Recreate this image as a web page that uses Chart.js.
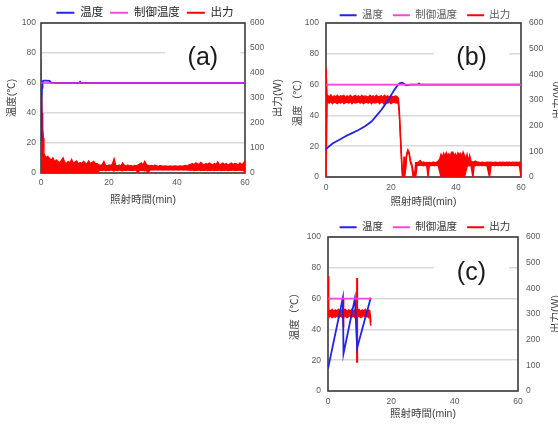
<!DOCTYPE html>
<html><head><meta charset="utf-8">
<script src="https://cdn.jsdelivr.net/npm/chart.js@4.4.1/dist/chart.umd.min.js"></script>
<style>
html,body{margin:0;padding:0;background:#fff;overflow:hidden;}
body{width:558px;height:425px;position:relative;}
.p{position:absolute;}
canvas{display:block;}
</style></head><body>
<div class="p" style="left:0;top:0;"><canvas id="ca" width="290" height="210"></canvas></div>
<div class="p" style="left:280px;top:0;"><canvas id="cb" width="290" height="210"></canvas></div>
<div class="p" style="left:280px;top:212px;"><canvas id="cc" width="290" height="213"></canvas></div>
<script>
// ---------- shared axis data ----------
const xTicksMin = 0, xTicksMax = 60, xStep = 20;
const tempMin = 0, tempMax = 100, tempStep = 20;
const powMin = 0, powMax = 600, powStep = 100;
const seriesNames = ['温度', '制御温度', '出力'];
const xTitle = '照射時間(min)';
const rightTitle = '出力(W)';

// ---------- panel (a) ----------
const aTempT = [0, 0.1, 0.2, 0.3, 0.45, 0.8, 1.5, 2.5, 3.0, 5.0, 11.2, 11.5, 11.8, 60];
const aTemp  = [22, 34, 48, 57, 61, 61.6, 61.6, 61.4, 60.3, 60, 60, 60.8, 60, 60];
const aSetT = [0, 60];
const aSet  = [60, 60];
const aPowT = [0,0.15,0.3,0.5,0.7,0.85,
 1,1.5,2,2.5,3,3.5,4,4.5,5,5.5,6,6.5,7,7.5,8,8.5,9,9.5,10,10.5,11,11.5,12,12.5,13,13.5,14,14.5,15,15.5,
 16,16.5,17,17.5,18,18.5,19,19.5,20,20.5,21,21.5,22,22.5,23,23.5,24,24.5,25,25.5,26,26.5,27,27.5,28,28.5,
 29,29.5,30,30.5,31,31.5,32,32.5,33,33.5,34,34.5,35,35.5,36,36.5,37,37.5,38,38.5,39,39.5,40,40.5,41,41.5,
 42,42.5,43,43.5,44,44.5,45,45.5,46,46.5,47,47.5,48,48.5,49,49.5,50,50.5,51,51.5,52,52.5,53,53.5,54,54.5,
 55,55.5,56,56.5,57,57.5,58,58.5,59,59.5,60];
const aPowHi = [456,456,240,180,140,80,
 72,62,66,58,50,60,44,52,46,40,
 50,60,42,38,46,40,54,38,44,48,
 36,42,38,46,40,36,48,38,42,46,
 36,38,32,30,34,46,30,28,32,30,
 36,56,30,28,32,28,40,30,27,32,
 28,30,26,30,28,32,36,40,32,46,
 34,30,28,30,27,32,28,26,30,28,
 26,28,27,26,28,26,27,28,26,27,
 28,26,28,30,27,32,34,38,32,40,
 36,34,42,36,32,38,34,40,36,32,
 38,34,44,32,36,40,34,38,32,36,
 40,34,38,36,32,40,34,38,48];
const aPowLo = [0,0,0,0,0,0,
 0,0,0,0,0,0,0,0,0,0,
 0,0,0,0,0,0,0,0,0,0,
 0,0,0,0,0,0,0,0,0,0,
 0,0,8,12,10,13,9,12,10,13,
 11,8,12,10,13,11,9,12,10,13,
 11,12,10,13,11,0,12,10,12,9,
 11,0,12,14,12,14,13,12,14,13,
 12,14,13,12,14,13,12,14,13,12,
 14,13,12,14,12,13,11,13,10,12,
 11,13,10,12,11,13,10,12,11,13,
 10,12,11,13,10,12,11,13,10,12,
 11,13,10,12,11,13,10,12,0];

// ---------- panel (b) ----------
const bTempT = [0, 1, 2, 4, 6, 8, 10, 12, 14, 16, 17, 18, 19, 20, 21, 22, 22.8, 23.4, 24.0, 24.6, 25.2, 26, 27, 28.2, 28.6, 29, 60];
const bTemp  = [18, 20, 21.7, 24, 26.5, 28.5, 30.5, 33, 36, 41, 43.5, 46.5, 49.5, 53, 56.5, 59.5, 61, 61.3, 60.5, 59.6, 59.7, 60, 60, 60, 60.6, 60, 60];
const bSetT = [0, 60];
const bSet  = [60, 60];
const bPowT = [0,0.2,0.35,
 0.5,1,1.5,2,2.5,3,3.5,4,4.5,5,5.5,6,6.5,7,7.5,8,8.5,9,9.5,10,10.5,11,11.5,12,12.5,13,13.5,14,14.5,15,
 15.5,16,16.5,17,17.5,18,18.5,19,19.5,20,20.5,21,21.5,22,
 22.3,22.6,22.9,23.2,23.5,23.8,24,24.2,24.5,24.8,25.2,25.6,26,26.4,26.8,27.2,27.6,28,28.5,29,29.5,30,30.5,31,
 31.4,31.8,32.5,33,33.5,34,34.5,35,35.4,35.8,36.2,36.6,37,37.4,37.8,38.2,38.6,39,39.4,39.8,40.2,40.6,41,41.4,
 41.8,42.2,42.6,43,43.4,43.8,44.2,44.6,45.2,45.6,46,46.5,47,47.5,48,48.5,49,49.5,50.3,50.8,51.5,52,52.5,53,
 53.5,54,54.5,55,55.5,56,56.5,57,57.5,58,58.5,59,59.5,60];
const bPowHi = [422,422,316,
 318,312,320,310,316,312,318,310,316,314,
 318,310,316,312,318,310,314,318,312,316,
 310,318,312,316,314,310,318,312,316,310,
 318,312,314,316,310,318,312,316,310,318,
 312,314,316,312,
 306,250,170,90,20,0,80,0,40,90,106,96,62,50,24,0,56,56,58,64,56,58,55,57,
 56,57,55,58,56,57,62,70,88,76,92,80,95,84,90,78,96,97,82,90,76,94,86,92,
 80,97,84,70,88,60,84,62,58,60,62,57,58,56,58,57,56,58,57,58,56,58,57,56,
 58,57,58,56,58,57,58,56,58,57,58,56,58,57];
const bPowLo = [0,0,290,
 292,288,294,286,292,290,286,292,288,294,
 286,290,292,288,294,286,292,288,290,294,
 288,292,286,290,292,288,294,286,292,288,
 290,294,286,292,290,282,290,288,292,286,
 290,292,288,290,
 282,230,150,70,0,0,0,0,30,82,98,88,54,42,0,0,0,44,46,46,46,44,46,45,
 0,46,45,46,44,46,45,20,0,10,0,0,8,0,0,12,0,0,5,0,0,10,0,0,
 6,0,0,20,40,46,44,46,0,46,44,46,45,46,44,46,45,46,0,45,46,44,46,45,
 46,44,46,45,46,44,46,45,46,44,46,45,46,0];

// ---------- panel (c) ----------
const cTempT = [0, 4.7, 4.9, 8.5, 9.2, 13.5];
const cTemp  = [14.5, 60.5, 24.3, 60.2, 28, 60.5];
const cSetT = [0, 13.5];
const cSet  = [60, 60];
const cPowT = [0,0.15,0.3,0.8,1.3,1.8,2.3,2.8,3.3,3.8,4.3,4.7,4.8,4.9,5,5.5,6,6.5,7,7.5,8,8.5,9,9.1,9.2,9.3,9.8,10.3,10.8,11.3,11.8,12.3,12.8,13.2,13.4,13.6];
const cPowHi = [447,447,316,312,318,310,316,312,318,310,316,312,362,362,314,318,310,316,312,318,310,316,312,438,438,314,318,310,316,312,318,310,316,312,290,268];
const cPowLo = [290,290,288,292,286,290,288,294,286,292,288,290,250,250,288,292,286,290,294,288,292,286,290,113,113,288,292,286,290,294,288,292,286,288,262,254];

// ---------- rendering ----------
const FONT = '"Liberation Sans", "Noto Sans CJK JP", sans-serif';
Chart.defaults.font.family = FONT;
const BLUE = '#2323e8', PINK = '#ff45dd', RED = '#ff0000';

function xy(t, v) { return t.map((x, i) => ({x: x, y: v[i]})); }

const panelDecor = {
  id: 'panelDecor',
  beforeDatasetsDraw(chart, args, o) {
    const {ctx, chartArea: ca, scales} = chart;
    const cx = scales.x.getPixelForValue(o.labelX);
    const cy = scales.y.getPixelForValue(o.labelY);
    ctx.save();
    ctx.fillStyle = '#ffffff';
    ctx.fillRect(cx - o.boxW / 2, cy - o.boxH / 2, o.boxW, o.boxH);
    ctx.fillStyle = '#1a1a1a';
    ctx.font = '25px ' + FONT;
    ctx.textAlign = 'center';
    ctx.textBaseline = 'middle';
    ctx.fillText(o.label, cx, cy);
    ctx.strokeStyle = '#3a3a3a';
    ctx.lineWidth = 1.6;
    ctx.strokeRect(ca.left, ca.top, ca.right - ca.left, ca.bottom - ca.top);
    const r = scales.y1;
    ctx.translate(r.right - o.rightTitleOffset, (ca.top + ca.bottom) / 2);
    ctx.rotate(-Math.PI / 2);
    ctx.fillStyle = '#404040';
    ctx.font = '10.5px ' + FONT;
    ctx.fillText(o.rightTitle, 0, 0);
    ctx.restore();
  }
};

function makePanel(id, d, s) {
  const datasets = [
    {label: seriesNames[0], data: xy(d.tempT, d.temp), yAxisID: 'y', borderColor: BLUE, borderWidth: 1.8, order: 1},
    {label: seriesNames[1], data: xy(d.setT, d.set), yAxisID: 'y', borderColor: s.setColor || PINK, legendColor: PINK, borderWidth: 1.8, order: 0},
    {label: seriesNames[2], data: xy(d.powT, d.powHi), yAxisID: 'y1', borderColor: RED, borderWidth: 1.4, order: 2},
    {label: seriesNames[2], data: xy(d.powT, d.powLo), yAxisID: 'y1', borderColor: RED, backgroundColor: RED, fill: '-1', borderWidth: 1.4, order: 2}
  ];
  const tickFont = {size: 8.5};
  const titleFont = {size: 10.5};
  new Chart(document.getElementById(id), {
    type: 'line',
    data: {datasets},
    plugins: [panelDecor],
    options: {
      responsive: false,
      animation: false,
      devicePixelRatio: 1,
      layout: {padding: 0},
      elements: {point: {radius: 0}, line: {tension: 0}},
      plugins: {
        tooltip: {enabled: false},
        legend: {
          position: 'top',
          maxHeight: s.legendMaxH,
          labels: {
            usePointStyle: true, pointStyle: 'line', pointStyleWidth: s.legendW,
            padding: s.legendPad, color: s.legendColor, font: {size: s.legendFont},
            generateLabels(chart) {
              const items = Chart.defaults.plugins.legend.labels.generateLabels(chart);
              items.forEach(it => {
                const ds = chart.data.datasets[it.datasetIndex];
                it.strokeStyle = ds.legendColor || ds.borderColor;
                it.fillStyle = it.strokeStyle;
                it.lineWidth = 2;
              });
              return items;
            },
            filter: it => it.datasetIndex < 3,
            sort: (a, b) => a.datasetIndex - b.datasetIndex
          }
        },
        panelDecor: {label: s.label, labelX: s.labelX, labelY: s.labelY, boxW: 75, boxH: 34, rightTitle: rightTitle, rightTitleOffset: s.rightTitleOff}
      },
      scales: {
        x: {
          type: 'linear', position: 'bottom', min: xTicksMin, max: xTicksMax,
          ticks: {stepSize: xStep, color: '#595959', font: tickFont, padding: s.xTickPad, maxRotation: 0},
          grid: {display: false, drawTicks: false}, border: {display: false},
          title: {display: true, text: xTitle, color: '#404040', font: titleFont, padding: {top: 0, bottom: s.xTitlePad}},
          afterFit(sc) { sc.height = s.bottomH; }
        },
        y: {
          type: 'linear', position: 'left', min: tempMin, max: tempMax,
          ticks: {stepSize: tempStep, color: '#595959', font: tickFont, padding: s.yTickPad},
          grid: {color: '#d9d9d9', lineWidth: 1.5, drawTicks: false}, border: {display: false},
          title: {display: true, text: s.yTitle, color: '#404040', font: titleFont, padding: {top: s.yTitlePad, bottom: 0}},
          afterFit(sc) { sc.width = s.leftW; }
        },
        y1: {
          type: 'linear', position: 'right', min: powMin, max: powMax,
          ticks: {stepSize: powStep, color: '#595959', font: tickFont, padding: s.y1TickPad},
          grid: {display: false, drawTicks: false}, border: {display: false},
          afterFit(sc) { sc.width = s.rightW; }
        }
      }
    }
  });
}

makePanel('ca',
  {tempT: aTempT, temp: aTemp, setT: aSetT, set: aSet, powT: aPowT, powHi: aPowHi, powLo: aPowLo},
  {setColor: 'rgba(255,40,225,0.72)', legendFont: 11.5, legendColor: '#262626', legendPad: 7, legendW: 18, legendMaxH: 23,
   leftW: 41, rightW: 45, bottomH: 37, yTickPad: 5, y1TickPad: 5, xTickPad: 5, yTitlePad: 6, xTitlePad: 4,
   rightTitleOff: 12, yTitle: '温度(℃)', label: '(a)', labelX: 47.6, labelY: 76.7});
makePanel('cb',
  {tempT: bTempT, temp: bTemp, setT: bSetT, set: bSet, powT: bPowT, powHi: bPowHi, powLo: bPowLo},
  {legendFont: 10.5, legendColor: '#595959', legendPad: 10, legendW: 17, legendMaxH: 23,
   leftW: 46, rightW: 49, bottomH: 33, yTickPad: 7, y1TickPad: 8, xTickPad: 6, yTitlePad: 12, xTitlePad: 2,
   rightTitleOff: 12, yTitle: '温度（℃）', label: '(b)', labelX: 44.8, labelY: 77.3});
makePanel('cc',
  {tempT: cTempT, temp: cTemp, setT: cSetT, set: cSet, powT: cPowT, powHi: cPowHi, powLo: cPowLo},
  {legendFont: 10.5, legendColor: '#333333', legendPad: 10, legendW: 17, legendMaxH: 25,
   leftW: 48, rightW: 52, bottomH: 34, yTickPad: 7, y1TickPad: 8, xTickPad: 5.5, yTitlePad: 8.7, xTitlePad: 5,
   rightTitleOff: 14, yTitle: '温度（℃）', label: '(c)', labelX: 45.3, labelY: 76.6});
</script>
</body></html>
